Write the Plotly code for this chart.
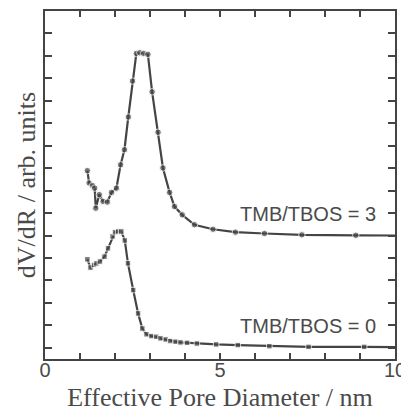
import plotly.graph_objects as go

# TMB/TBOS = 3 (offset curve)
x_tmb3 = [1.21, 1.26, 1.36, 1.42, 1.45, 1.55, 1.66, 1.78, 1.90, 2.04, 2.16, 2.27, 2.38, 2.50,
          2.61, 2.71, 2.82, 2.94, 3.06, 3.23, 3.37, 3.56, 3.70, 3.92, 4.27, 4.80, 5.44, 6.27,
          7.34, 8.88, 10.0]
y_tmb3 = [7.89, 7.34, 7.22, 7.11, 6.22, 6.82, 6.52, 6.49, 6.92, 7.11, 8.15, 8.82, 10.28, 11.88,
          13.11, 13.14, 13.11, 13.07, 11.40, 9.60, 8.01, 6.92, 6.29, 5.92, 5.48, 5.28, 5.15, 5.09,
          5.03, 5.01, 5.00]

# TMB/TBOS = 0
x_tmb0 = [1.21, 1.30, 1.40, 1.47, 1.57, 1.70, 1.80, 1.93, 2.00, 2.09, 2.18, 2.28, 2.37, 2.52,
          2.66, 2.78, 2.90, 3.04, 3.18, 3.30, 3.45, 3.58, 3.73, 3.87, 4.06, 4.34, 4.89, 5.51,
          6.41, 7.53, 9.12, 10.0]
y_tmb0 = [3.94, 3.57, 3.69, 3.76, 3.84, 4.06, 4.43, 4.96, 5.15, 5.18, 5.18, 4.78, 3.76, 2.57,
          1.53, 0.86, 0.60, 0.52, 0.49, 0.42, 0.37, 0.30, 0.27, 0.24, 0.22, 0.19, 0.15, 0.12,
          0.07, 0.04, 0.04, 0.03]

labels = ["TMB/TBOS = 3", "TMB/TBOS = 0"]
label_pos = [(9.5, 5.95), (9.5, 0.95)]

x_tick_vals = list(range(0, 11))
x_tick_text = ["0", "", "", "", "", "5", "", "", "", "", "10"]

ink = "#444444"
txt_col = "#4a4a4a"

fig = go.Figure()
fig.add_trace(go.Scatter(
    x=x_tmb3, y=y_tmb3, mode="lines+markers",
    line=dict(color=ink, width=2.2),
    marker=dict(symbol="circle", color=ink, size=[6.5] * (len(x_tmb3) - 1) + [0]),
    cliponaxis=True, showlegend=False))
fig.add_trace(go.Scatter(
    x=x_tmb0, y=y_tmb0, mode="lines+markers",
    line=dict(color=ink, width=2.2),
    marker=dict(symbol="square", color=ink, size=[5.5] * (len(x_tmb0) - 1) + [0]),
    cliponaxis=True, showlegend=False))

for txt, (lx, ly) in zip(labels, label_pos):
    fig.add_annotation(x=lx, y=ly, text=txt, showarrow=False, xanchor="right", yanchor="middle",
                       font=dict(family="Liberation Sans, Arial, sans-serif", size=20, color=txt_col))

# page body has an 8px margin: compensate so the frame lands where the reference has it
fig.update_layout(
    width=401, height=404,
    margin=dict(l=37, r=14, t=3, b=53),
    paper_bgcolor="white", plot_bgcolor="white",
    font=dict(family="Liberation Sans, Arial, sans-serif", color=txt_col),
)
fig.update_xaxes(
    range=[0, 10], tickvals=x_tick_vals, ticktext=x_tick_text,
    ticks="inside", ticklen=6, tickwidth=1.5, tickcolor=ink,
    showline=True, linecolor=ink, linewidth=2, mirror="ticks",
    showgrid=False, zeroline=False, automargin=False,
    ticklabelstandoff=-8,
    tickfont=dict(family="Liberation Sans, Arial, sans-serif", size=20, color=txt_col),
    title=dict(text="Effective Pore Diameter / nm", standoff=8,
               font=dict(family="Liberation Serif, Times New Roman, serif", size=26, color=txt_col)),
)
fig.update_yaxes(
    range=[-0.5, 15], dtick=1, tick0=0,
    ticks="inside", ticklen=7, tickwidth=1.5, tickcolor=ink,
    showline=True, linecolor=ink, linewidth=2, mirror="ticks",
    showgrid=False, zeroline=False, showticklabels=False, automargin=False,
    title=dict(text="dV/dR / arb. units", standoff=0,
               font=dict(family="Liberation Serif, Times New Roman, serif", size=26, color=txt_col)),
)

fig.write_html("out.html")
